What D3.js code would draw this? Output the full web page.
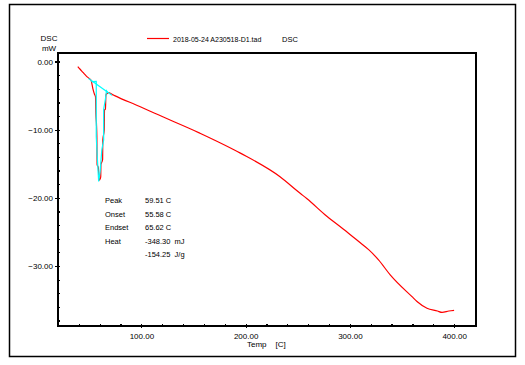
<!DOCTYPE html>
<html>
<head>
<meta charset="utf-8">
<script src="https://cdn.jsdelivr.net/npm/d3@7"></script>
<style>
  body { margin: 0; background: #fff; }
  text { font-family: "Liberation Sans", Arial, sans-serif; fill: #000; }
</style>
</head>
<body>
<div class="chart"></div>
<script>
// DSC curve (temperature C, heat flow mW)
var dscTemp = [39, 41, 44, 47, 50, 51.7, 53.5, 55, 56, 56.3, 57, 57.3, 57.5, 58.7, 59.1, 59.6, 60.5, 61, 61.2, 62.8, 63, 64.4, 64.6, 65.5, 66, 67, 68.5, 71, 74.3, 98.4, 112.8, 156, 194.5, 233, 252, 258.6, 277.9, 293.9, 310, 318, 327.5, 338.7, 359.6, 364.4, 374, 384, 388.4, 395, 400];
var dscValue = [-0.75, -1.1, -1.6, -2.1, -2.5, -2.75, -4.0, -4.8, -5.2, -7.6, -9.5, -11.2, -15.1, -15.6, -16.6, -17.4, -17.2, -16.9, -15.1, -14.4, -11.5, -10, -7.1, -7, -4.9, -4.7, -4.55, -4.75, -5.0, -6.6, -7.6, -10.5, -13.4, -16.9, -19.3, -20.1, -22.7, -24.6, -26.6, -27.6, -29.1, -31.3, -34.5, -35.2, -36.2, -36.6, -36.8, -36.6, -36.5];

// peak evaluation lines (cyan)
var baseTemp = [49.3, 71.7];
var baseValue = [-2.5, -4.95];
var peakTemp = [52, 56.7, 56.7, 57.5, 59, 60.5, 62, 63.8, 63.8, 65.5, 66.5, 67.5];
var peakValue = [-2.95, -2.9, -11, -13.5, -17.6, -16, -13, -11.5, -7, -5.5, -4.3, -4.5];

var xTicks = [100, 200, 300, 400];
var yTicks = [0, -10, -20, -30];

var legendLabel = "2018-05-24 A230518-D1.tad";
var notes = [
  ["Peak", "59.51 C"],
  ["Onset", "55.58 C"],
  ["Endset", "65.62 C"],
  ["Heat", "-348.30  mJ"],
  ["", "-154.25  J/g"]
];

var svgWidth = 525;
var svgHeight = 365;

var margin = { top: 53, right: 49, bottom: 39, left: 58 };
var width = svgWidth - margin.left - margin.right;
var height = svgHeight - margin.top - margin.bottom;

var svg = d3.select(".chart")
  .append("svg")
  .attr("width", svgWidth)
  .attr("height", svgHeight);

// outer frame
svg.append("rect")
  .attr("x", 9.5)
  .attr("y", 4.5)
  .attr("width", 506)
  .attr("height", 352)
  .attr("fill", "none")
  .attr("stroke", "#000")
  .attr("stroke-width", 1.5);

var chartGroup = svg.append("g")
  .attr("transform", `translate(${margin.left}, ${margin.top})`);

var x = d3.scaleLinear().domain([20, 421]).range([0, width]);
var y = d3.scaleLinear().domain([-38.8, 1.25]).range([height, 0]);

// plot border
chartGroup.append("rect")
  .attr("width", width)
  .attr("height", height)
  .attr("fill", "none")
  .attr("stroke", "#000")
  .attr("stroke-width", 1.5)
  .attr("shape-rendering", "crispEdges");

// minor ticks
chartGroup.append("g")
  .attr("transform", `translate(0, ${height})`)
  .call(d3.axisBottom(x).tickValues(d3.range(40, 421, 20)).tickSize(-2).tickFormat(""))
  .call(g => g.select(".domain").remove());

chartGroup.append("g")
  .call(d3.axisLeft(y).tickValues(d3.range(-38, 1, 2)).tickSize(-2).tickFormat(""))
  .call(g => g.select(".domain").remove());

// major ticks with labels
var xAxis = chartGroup.append("g")
  .attr("transform", `translate(0, ${height})`)
  .call(d3.axisBottom(x).tickValues(xTicks).tickSize(2).tickPadding(5).tickFormat(d3.format(".2f")));
xAxis.select(".domain").remove();
xAxis.selectAll(".tick line").attr("y1", -2);
xAxis.selectAll("text").attr("font-size", "8px").attr("font-family", null);

var yAxis = chartGroup.append("g")
  .call(d3.axisLeft(y).tickValues(yTicks).tickSize(3).tickPadding(2).tickFormat(d3.format(".2f")));
yAxis.select(".domain").remove();
yAxis.selectAll("text").attr("font-size", "8px").attr("font-family", null);

chartGroup.selectAll(".tick line").attr("stroke-width", 1.2).attr("shape-rendering", "crispEdges");

// curves
var line = d3.line().x(d => x(d[0])).y(d => y(d[1]));
var smoothLine = d3.line().x(d => x(d[0])).y(d => y(d[1])).curve(d3.curveMonotoneX);

chartGroup.append("path")
  .datum(d3.zip(dscTemp, dscValue))
  .attr("d", smoothLine)
  .attr("fill", "none")
  .attr("stroke", "#ff0000")
  .attr("stroke-width", 1.2);

chartGroup.append("path")
  .datum(d3.zip(baseTemp, baseValue))
  .attr("d", line)
  .attr("fill", "none")
  .attr("stroke", "#00ffff")
  .attr("stroke-width", 1.2);

chartGroup.append("path")
  .datum(d3.zip(peakTemp, peakValue))
  .attr("d", line)
  .attr("fill", "none")
  .attr("stroke", "#00ffff")
  .attr("stroke-width", 1.2);

// peak notes
var noteGroup = chartGroup.append("g").attr("font-size", "7.5px");
notes.forEach(function (n, i) {
  noteGroup.append("text")
    .attr("x", 105 - margin.left)
    .attr("y", 203 - margin.top + i * 13.5)
    .text(n[0]);
  noteGroup.append("text")
    .attr("x", 145 - margin.left)
    .attr("y", 203 - margin.top + i * 13.5)
    .style("white-space", "pre")
    .text(n[1]);
});

// axis titles
svg.append("text")
  .attr("x", 49)
  .attr("y", 41)
  .attr("text-anchor", "middle")
  .attr("font-size", "8px")
  .text("DSC");

svg.append("text")
  .attr("x", 49)
  .attr("y", 51)
  .attr("text-anchor", "middle")
  .attr("font-size", "8px")
  .text("mW");

svg.append("text")
  .attr("x", 247)
  .attr("y", 347)
  .attr("font-size", "8px")
  .style("white-space", "pre")
  .text("Temp    [C]");

// legend
svg.append("line")
  .attr("x1", 147)
  .attr("x2", 169)
  .attr("y1", 38.5)
  .attr("y2", 38.5)
  .attr("stroke", "#ff0000")
  .attr("stroke-width", 1.2);

svg.append("text")
  .attr("x", 173)
  .attr("y", 41.5)
  .attr("font-size", "7px")
  .text(legendLabel);

svg.append("text")
  .attr("x", 282)
  .attr("y", 41.5)
  .attr("font-size", "7.5px")
  .text("DSC");
</script>
</body>
</html>
